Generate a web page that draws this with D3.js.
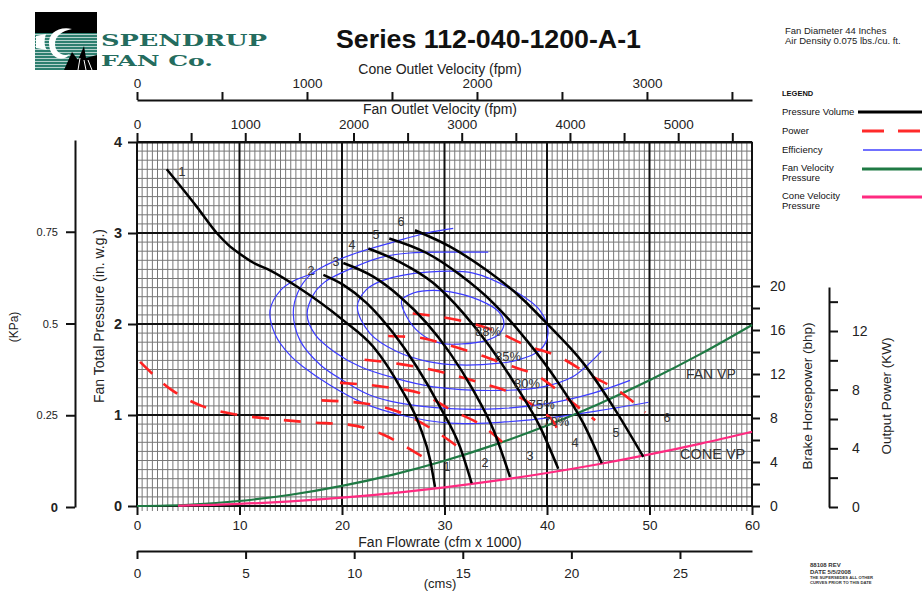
<!DOCTYPE html>
<html><head><meta charset="utf-8">
<script src="https://cdn.jsdelivr.net/npm/d3@7"></script>
<style>
body{margin:0;background:#fff;}
svg{display:block;font-family:"Liberation Sans",Arial,sans-serif;}
</style></head><body><svg id="c" width="922" height="593"></svg>
<script>
// ---------- DATA ----------
const flowTicks = [0,10,20,30,40,50,60];            // cfm x 1000
const pressureTicks = [0,1,2,3,4];                   // in. w.g.
const kpaTicks = [0,0.25,0.5,0.75];
const bhpTicks = [0,4,8,12,16,20];
const kwTicks = [0,4,8,12];
const fanVelTicks = [0,1000,2000,3000,4000,5000];
const coneVelTicks = [0,1000,2000,3000];
const cmsTicks = [0,5,10,15,20,25];

// Pressure-volume curves [cfm x1000, in.wg]
const pv1 = [[2.9,3.70],[5.82,3.29],[7.78,3.00],[8.9,2.87],[10.05,2.77],[11.4,2.67],[12.98,2.59],[15.9,2.39],[20.13,2.04],[23.05,1.75],[25.66,1.31],[27.61,0.87],[28.59,0.51],[29.07,0.21]];
const pv2 = [[18.18,2.54],[20.13,2.43],[22.41,2.23],[25.0,1.90],[27.29,1.53],[29.56,1.09],[31.51,0.65],[32.65,0.25]];
const pv3 = [[20.13,2.67],[23.05,2.52],[25.66,2.30],[28.26,2.01],[30.54,1.68],[32.81,1.27],[34.76,0.84],[36.39,0.32]];
const pv4 = [[22.57,2.83],[25.66,2.68],[28.91,2.45],[31.83,2.12],[34.44,1.75],[37.04,1.31],[39.32,0.87],[41.1,0.41]];
const pv5 = [[24.61,2.94],[28.26,2.78],[31.51,2.54],[34.76,2.23],[38.02,1.82],[40.95,1.38],[43.54,0.91],[45.34,0.47]];
const pv6 = [[27.12,3.03],[30.54,2.85],[34.12,2.59],[37.37,2.30],[40.29,1.97],[43.54,1.57],[46.47,1.09],[49.4,0.54]];
const pvCurves = [pv1,pv2,pv3,pv4,pv5,pv6];

// Power curves [cfm x1000, bhp]
const pw1 = [[0.3,13.1],[3.3,10.6],[6.3,9.1],[9.8,8.3],[13.3,7.9],[16.9,7.6],[20.6,7.4],[24.0,6.5],[27.1,4.9],[28.4,4.2]];
const pw2 = [[18.0,9.6],[22.4,9.3],[25.7,8.5],[28.6,7.1],[30.7,5.8],[32.0,4.9]];
const pw3 = [[19.8,11.2],[24.4,10.8],[27.8,10.2],[30.7,8.7],[33.5,7.4],[35.4,6.0],[36.4,5.1]];
const pw4 = [[22.2,13.3],[25.7,12.9],[29.6,12.2],[33.5,11.2],[36.9,10.1],[39.3,8.7],[40.8,7.4],[41.3,6.0]];
const pw5 = [[24.5,15.45],[27.6,15.3],[29.7,14.8],[32.6,14.0],[35.9,12.9],[39.3,11.7],[42.2,9.6],[44.7,7.8]];
const pw6 = [[26.9,17.5],[31.3,16.9],[34.7,16.0],[38.0,14.6],[41.1,13.6],[44.2,11.9],[47.1,10.4],[49.6,8.5]];
const pwCurves = [pw1,pw2,pw3,pw4,pw5,pw6];

// Efficiency contours [cfm x1000, in.wg]
const eff88 = [[25.82,2.26],[26.96,2.34],[28.91,2.37],[31.19,2.34],[33.46,2.26],[35.25,2.14],[35.8,2.01],[35.41,1.90],[34.12,1.82],[31.51,1.78],[29.56,1.79],[27.61,1.90],[26.31,2.08]];
const eff85 = [[21.5,2.19],[22.4,2.38],[24.0,2.48],[28.3,2.57],[32.8,2.56],[36.7,2.37],[39.3,2.15],[40.1,1.90],[39.3,1.71],[37.0,1.60],[35.4,1.57],[31.5,1.55],[28.3,1.59],[25.3,1.70],[22.7,1.90]];
const eff80 = [[34.27,2.79],[30.5,2.79],[26.6,2.78],[23.7,2.73],[20.1,2.57],[18.3,2.46],[17.2,2.32],[16.6,2.10],[17.4,1.88],[19.3,1.69],[21.8,1.53],[25.0,1.41],[28.9,1.31],[35.4,1.27],[39.6,1.31],[42.5,1.42],[45.3,1.70]];
const eff75 = [[30.85,3.05],[28.26,3.00],[25.0,2.90],[21.4,2.78],[18.5,2.65],[16.9,2.54],[15.7,2.35],[15.25,2.12],[15.9,1.82],[17.9,1.55],[20.1,1.38],[22.7,1.22],[25.66,1.13],[30.5,1.07],[35.4,1.07],[40.3,1.13],[44.5,1.24],[48.1,1.38]];
const eff70 = [[17.4,2.56],[15.4,2.48],[14.0,2.37],[12.98,2.15],[13.5,1.88],[14.9,1.66],[16.2,1.53],[18.8,1.33],[22.1,1.13],[25.7,1.0],[30.5,0.91],[35.4,0.92],[41.0,0.98],[45.2,1.05],[49.9,1.14]];
const effClosed = [eff88, eff85];
const effOpen = [eff80, eff75, eff70];
const effLabels = ["88%","85%","80%","75%","70%"];
const effLabelAt = [[34.24,1.92],[36.2,1.64],[38.05,1.35],[39.5,1.12],[40.9,0.93]];

// Velocity pressure curves [cfm x1000, in.wg]
const fanVP = [[0,0],[5,0.014],[10,0.055],[15,0.124],[20,0.221],[25,0.345],[30,0.497],[35,0.677],[40,0.884],[45,1.119],[50,1.382],[55,1.672],[60,1.99]];
const coneVP = [[4,0.004],[5,0.006],[10,0.023],[15,0.051],[20,0.091],[25,0.142],[30,0.204],[35,0.278],[40,0.363],[45,0.459],[50,0.567],[55,0.686],[60,0.816]];

// Curve number labels
const curveNames = ["1","2","3","4","5","6"];
const pvTopLabelAt = [[4.39,3.67],[16.98,2.58],[19.41,2.68],[20.98,2.87],[23.32,2.98],[25.76,3.12]];
const pwEndLabelAt = [[30.24,0.43],[33.95,0.47],[38.34,0.55],[42.73,0.69],[46.73,0.80],[51.71,0.97]];

// ---------- SCALES ----------
const svg = d3.select("#c");
const X0 = 137, X1 = 752, Y0 = 506, Y1 = 142;
const x = d3.scaleLinear().domain([0,60]).range([X0,X1]);
const y = d3.scaleLinear().domain([0,4]).range([Y0,Y1]);
const yBhp = d3.scaleLinear().domain([0,20]).range([Y0,286]);
const yKw = d3.scaleLinear().domain([0,15]).range([507,287]);
const yKpa = d3.scaleLinear().domain([0,1]).range([507,140]);
const xFanVel = d3.scaleLinear().domain([0,5682]).range([X0,X1]);
const xConeVel = d3.scaleLinear().domain([0,3618]).range([X0,X1]);
const xCms = d3.scaleLinear().domain([0,60/2.11888]).range([X0,X1]);

const txt = "#222";

// ---------- LOGO ----------
const logo = svg.append("g");
logo.append("rect").attr("x",35).attr("y",12).attr("width",62).attr("height",58).attr("fill","#2e7f70");
d3.range(34,70,3).forEach(yy=>logo.append("rect").attr("x",35).attr("y",yy).attr("width",62).attr("height",1).attr("fill","#fff").attr("opacity",0.65));
logo.append("rect").attr("x",35).attr("y",12).attr("width",62).attr("height",21).attr("fill","#000");
logo.append("path").attr("d","M36,36 L46,34 C44,40 44,46 47,50 L36,48 Z").attr("fill","#fff");
logo.append("path").attr("d","M49,44 C48,34 58,26 72,29 C62,31 55,36 55,44 C55,52 62,57 70,54 C64,62 50,60 49,44 Z").attr("fill","#fff");
logo.append("path").attr("d","M64,70 L72,52 L78,60 L84,46 L86,58 L97,55 L97,70 Z").attr("fill","#000");
logo.append("path").attr("d","M78,70 L80,58 M86,70 L84,60 M92,70 L88,60").attr("stroke","#fff").attr("stroke-width",1);
svg.append("text").attr("x",101).attr("y",46).attr("textLength",166).attr("lengthAdjust","spacingAndGlyphs")
  .attr("font-family","'DejaVu Serif',serif").attr("font-weight","bold").attr("font-size",17.5).attr("fill","#246c5e").text("SPENDRUP");
svg.append("text").attr("x",101).attr("y",65.5).attr("textLength",112).attr("lengthAdjust","spacingAndGlyphs")
  .attr("font-family","'DejaVu Serif',serif").attr("font-weight","bold").attr("font-size",15.5).attr("fill","#246c5e").text("FAN Co.");

// ---------- TITLE / INFO ----------
svg.append("text").attr("x",336).attr("y",48).attr("textLength",305).attr("lengthAdjust","spacingAndGlyphs")
  .attr("font-weight","bold").attr("font-size",25).attr("fill","#111").text("Series 112-040-1200-A-1");
svg.append("text").attr("x",785).attr("y",34).attr("font-size",9.5).attr("fill",txt).text("Fan Diameter 44 Inches");
svg.append("text").attr("x",785).attr("y",44).attr("font-size",9.5).attr("fill",txt).text("Air Density 0.075 lbs./cu. ft.");

// ---------- LEGEND ----------
const lg = svg.append("g").attr("font-size",9.5).attr("fill","#111");
lg.append("text").attr("x",782).attr("y",96).attr("font-weight","bold").attr("font-size",7.5).text("LEGEND");
lg.append("text").attr("x",782).attr("y",115).text("Pressure Volume");
lg.append("text").attr("x",782).attr("y",134).text("Power");
lg.append("text").attr("x",782).attr("y",153).text("Efficiency");
lg.append("text").attr("x",782).attr("y",171).text("Fan Velocity");
lg.append("text").attr("x",782).attr("y",181).text("Pressure");
lg.append("text").attr("x",782).attr("y",199).text("Cone Velocity");
lg.append("text").attr("x",782).attr("y",209).text("Pressure");
lg.append("line").attr("x1",858).attr("x2",922).attr("y1",112).attr("y2",112).attr("stroke","#000").attr("stroke-width",3);
lg.append("line").attr("x1",862).attr("x2",922).attr("y1",131).attr("y2",131).attr("stroke","#ff2a2a").attr("stroke-width",3).attr("stroke-dasharray","22,14");
lg.append("line").attr("x1",863).attr("x2",922).attr("y1",150).attr("y2",150).attr("stroke","#4040ff").attr("stroke-width",1.5);
lg.append("line").attr("x1",862).attr("x2",922).attr("y1",169).attr("y2",169).attr("stroke","#1f7a44").attr("stroke-width",3);
lg.append("line").attr("x1",862).attr("x2",922).attr("y1",197).attr("y2",197).attr("stroke","#ff2a80").attr("stroke-width",3);

// ---------- GRID ----------
const grid = svg.append("g");
d3.range(0,60.001,0.5).forEach(v=>{
  if(Math.abs(v%10)<1e-6) return;
  grid.append("line").attr("x1",x(v)).attr("x2",x(v)).attr("y1",Y1).attr("y2",Y0+5).attr("stroke","#777").attr("stroke-width",1);
});
d3.range(0,4.001,0.1).forEach(v=>{
  if(Math.abs(v-Math.round(v))<1e-6) return;
  grid.append("line").attr("x1",X0).attr("x2",X1).attr("y1",y(v)).attr("y2",y(v)).attr("stroke","#777").attr("stroke-width",1);
});
flowTicks.forEach(v=>grid.append("line").attr("x1",x(v)).attr("x2",x(v)).attr("y1",Y1).attr("y2",Y0).attr("stroke","#111").attr("stroke-width",2));
pressureTicks.forEach(v=>grid.append("line").attr("x1",X0).attr("x2",X1).attr("y1",y(v)).attr("y2",y(v)).attr("stroke","#111").attr("stroke-width",2));

// ---------- AXES ----------
function styleAxis(g, fs){
  g.selectAll("path.domain").attr("stroke","#111").attr("stroke-width",2);
  g.selectAll(".tick line").attr("stroke","#111").attr("stroke-width",2);
  g.selectAll("text").attr("fill",txt).attr("font-size",fs).attr("font-family","'Liberation Sans',Arial,sans-serif");
}
// bottom flow axis
const gb = svg.append("g").attr("transform",`translate(0,${Y0})`)
  .call(d3.axisBottom(x).tickValues(flowTicks).tickSize(9).tickPadding(5).tickSizeOuter(0));
styleAxis(gb,13.5); gb.select("path.domain").remove();
svg.append("text").attr("x",440).attr("y",547).attr("text-anchor","middle").attr("font-size",14).attr("fill",txt).text("Fan Flowrate (cfm x 1000)");
// cms axis
const gc = svg.append("g").attr("transform","translate(0,551)")
  .call(d3.axisBottom(xCms).tickValues(cmsTicks).tickSize(8).tickPadding(9).tickSizeOuter(0));
styleAxis(gc,13.5);
svg.append("text").attr("x",440).attr("y",588).attr("text-anchor","middle").attr("font-size",13).attr("fill",txt).text("(cms)");
// left pressure axis
const gl = svg.append("g").attr("transform",`translate(${X0},0)`)
  .call(d3.axisLeft(y).tickValues(pressureTicks).tickSize(9).tickPadding(6).tickSizeOuter(0).tickFormat(d3.format("d")));
styleAxis(gl,14.5); gl.select("path.domain").remove();
gl.selectAll("text").attr("font-weight","bold");
svg.append("text").attr("transform","translate(104,316) rotate(-90)").attr("text-anchor","middle").attr("font-size",14).attr("fill",txt).text("Fan Total Pressure (in. w.g.)");
// KPa axis
const gk = svg.append("g").attr("transform","translate(75,0)")
  .call(d3.axisLeft(yKpa).tickValues(kpaTicks).tickSize(9).tickPadding(8).tickSizeOuter(0).tickFormat(d=>d===0?"0":d));
styleAxis(gk,11);
gk.selectAll("text").filter(d=>d===0).attr("font-size",13).attr("font-weight","bold");
svg.append("text").attr("transform","translate(18,327) rotate(-90)").attr("text-anchor","middle").attr("font-size",12).attr("fill",txt).text("(KPa)");
// BHP axis (right)
const gr = svg.append("g").attr("transform",`translate(${X1},0)`)
  .call(d3.axisRight(yBhp).tickValues(d3.range(0,20.1,2)).tickSize(8).tickPadding(10).tickSizeOuter(0)
  .tickFormat(d=>bhpTicks.includes(d)?d:""));
styleAxis(gr,14); gr.select("path.domain").remove();
svg.append("text").attr("transform","translate(812,396) rotate(-90)").attr("text-anchor","middle").attr("font-size",13.5).attr("fill",txt).text("Brake Horsepower (bhp)");
// KW axis
const gw = svg.append("g").attr("transform","translate(829,0)")
  .call(d3.axisRight(yKw).tickValues(d3.range(0,14.1,2)).tickSize(9).tickPadding(14).tickSizeOuter(0)
  .tickFormat(d=>kwTicks.includes(d)?d:""));
styleAxis(gw,14);
svg.append("text").attr("transform","translate(891,396) rotate(-90)").attr("text-anchor","middle").attr("font-size",13.5).attr("fill",txt).text("Output Power (KW)");
// fan outlet velocity (top)
const gf = svg.append("g").attr("transform",`translate(0,${Y1})`)
  .call(d3.axisTop(xFanVel).tickValues(d3.range(0,5501,500)).tickSize(9).tickPadding(4).tickSizeOuter(0)
  .tickFormat(d=>fanVelTicks.includes(d)?d:""));
styleAxis(gf,13.5);
svg.append("text").attr("x",440).attr("y",114).attr("text-anchor","middle").attr("font-size",14).attr("fill",txt).text("Fan Outlet Velocity (fpm)");
// cone outlet velocity (top)
const gv = svg.append("g").attr("transform","translate(0,100)")
  .call(d3.axisTop(xConeVel).tickValues(d3.range(0,3501,500)).tickSize(8).tickPadding(4).tickSizeOuter(0)
  .tickFormat(d=>coneVelTicks.includes(d)?d:""));
styleAxis(gv,13.5);
svg.append("text").attr("x",440).attr("y",74).attr("text-anchor","middle").attr("font-size",14).attr("fill",txt).text("Cone Outlet Velocity (fpm)");

// ---------- CURVES ----------
const lineP = d3.line().x(d=>x(d[0])).y(d=>y(d[1])).curve(d3.curveMonotoneX);
const lineW = d3.line().x(d=>x(d[0])).y(d=>yBhp(d[1])).curve(d3.curveMonotoneX);
const lineE = d3.line().x(d=>x(d[0])).y(d=>y(d[1])).curve(d3.curveCatmullRom.alpha(0.5));
const lineC = d3.line().x(d=>x(d[0])).y(d=>y(d[1])).curve(d3.curveCatmullRomClosed.alpha(0.5));

const cg = svg.append("g").attr("fill","none");
effClosed.forEach(c=>cg.append("path").attr("d",lineC(c)).attr("stroke","#3b3bff").attr("stroke-width",1.2));
effOpen.forEach(c=>cg.append("path").attr("d",lineE(c)).attr("stroke","#3b3bff").attr("stroke-width",1.2));
cg.append("path").attr("d",lineP(fanVP)).attr("stroke","#1f7a44").attr("stroke-width",2.2);
cg.append("path").attr("d",lineP(coneVP)).attr("stroke","#ff2a80").attr("stroke-width",2.2);
pwCurves.forEach(c=>cg.append("path").attr("d",lineW(c)).attr("stroke","#ff2222").attr("stroke-width",2.6).attr("stroke-dasharray","17,15"));
pvCurves.forEach(c=>cg.append("path").attr("d",lineP(c)).attr("stroke","#000").attr("stroke-width",2.5));

// ---------- ANNOTATIONS ----------
const ann = svg.append("g").attr("fill","#333").attr("font-size",12.5).attr("text-anchor","middle").attr("dominant-baseline","central");
curveNames.forEach((n,i)=>{
  ann.append("text").attr("x",x(pvTopLabelAt[i][0])).attr("y",y(pvTopLabelAt[i][1])).text(n);
  ann.append("text").attr("x",x(pwEndLabelAt[i][0])).attr("y",y(pwEndLabelAt[i][1])).text(n);
});
effLabels.forEach((n,i)=>ann.append("text").attr("x",x(effLabelAt[i][0])).attr("y",y(effLabelAt[i][1])).attr("font-size",13).text(n));
ann.append("text").attr("x",x(53.56)).attr("y",y(1.45)).attr("text-anchor","start").attr("font-size",14).text("FAN VP");
ann.append("text").attr("x",x(52.98)).attr("y",y(0.57)).attr("text-anchor","start").attr("font-size",14.5).text("CONE VP");

// ---------- FOOTER ----------
const ft = svg.append("g").attr("fill","#333").attr("font-weight","bold");
ft.append("text").attr("x",810).attr("y",567).attr("font-size",6).text("88108     REV");
ft.append("text").attr("x",810).attr("y",573.5).attr("font-size",6).text("DATE    5/5/2008");
ft.append("text").attr("x",810).attr("y",579).attr("font-size",4.2).text("THE SUPERSEDES ALL OTHER");
ft.append("text").attr("x",810).attr("y",584).attr("font-size",4.2).text("CURVES PRIOR TO THIS DATE");
</script></body></html>
